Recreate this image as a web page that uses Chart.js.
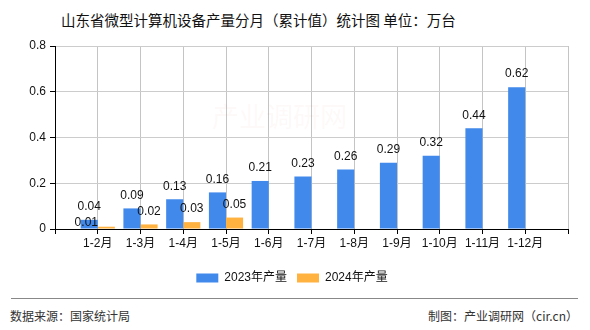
<!DOCTYPE html>
<html>
<head>
<meta charset="utf-8">
<script src="https://cdn.jsdelivr.net/npm/chart.js@4"></script>
<style>
  body { margin: 0; background: #fff; }
  #wrap { position: relative; width: 590px; height: 330px; overflow: hidden; }
  #title {
    position: absolute; left: 61px; top: 9px;
    font: 14.5px "Noto Sans CJK SC", sans-serif; color: #111; white-space: nowrap;
  }
  #chartBox { position: absolute; left: 0; top: 0; width: 590px; height: 300px; }
  #footLine { position: absolute; left: 11px; top: 298px; width: 567px; height: 1px; background: #888; }
  .foot {
    position: absolute; top: 307px;
    font: 12px "Noto Sans CJK SC", sans-serif; color: #333; white-space: nowrap;
  }
</style>
</head>
<body>
<div id="wrap">
  <div id="title">山东省微型计算机设备产量分月（累计值）统计图 单位：万台</div>
  <div id="chartBox"><canvas id="chanliang"></canvas></div>
  <div id="footLine"></div>
  <div class="foot" style="left:10px">数据来源：国家统计局</div>
  <div class="foot" style="right:12px">制图：产业调研网（cir.cn）</div>
</div>
<script>
const months = ["1-2月", "1-3月", "1-4月", "1-5月", "1-6月", "1-7月", "1-8月", "1-9月", "1-10月", "1-11月", "1-12月"];
const output2023 = [0.04, 0.09, 0.13, 0.16, 0.21, 0.23, 0.26, 0.29, 0.32, 0.44, 0.62];
const output2024 = [0.01, 0.02, 0.03, 0.05];
const yTicks = [0, 0.2, 0.4, 0.6, 0.8];

// the axis runs one empty slot past each end, so pad labels and values
const pad = arr => [null, ...arr, ...Array(months.length - arr.length).fill(null), null];
const labels = ["", ...months, ""];

const textFont = { family: "'Liberation Sans', 'Noto Sans CJK SC', sans-serif", size: 12 };

// value labels above each bar
const valueLabels = {
  id: "valueLabels",
  afterDatasetsDraw(chart) {
    const ctx = chart.ctx;
    ctx.save();
    ctx.font = "12px 'Liberation Sans', sans-serif";
    ctx.fillStyle = "#111";
    ctx.textAlign = "center";
    ctx.textBaseline = "middle";
    chart.data.datasets.forEach((ds, di) => {
      chart.getDatasetMeta(di).data.forEach((bar, i) => {
        const v = ds.data[i];
        if (v == null) return;
        let x = bar.x, y = bar.y - 13;
        // first 2024 label gets pushed aside by the 2023 one
        if (di === 1 && i === 1) { x -= 20; y += 9; }
        ctx.fillText(v.toFixed(2), x, y);
      });
    });
    ctx.restore();
  }
};

// faint site watermark inside the plot
const watermark = {
  id: "watermark",
  beforeDatasetsDraw(chart) {
    const ctx = chart.ctx;
    ctx.save();
    ctx.font = "27px 'Noto Sans CJK SC', sans-serif";
    ctx.fillStyle = "rgba(230, 110, 110, 0.04)";
    ctx.textBaseline = "middle";
    ctx.fillText("产业调研网", 212, 117);
    ctx.restore();
  }
};

new Chart(document.getElementById("chanliang"), {
  type: "bar",
  data: {
    labels: labels,
    datasets: [
      {
        label: "2023年产量",
        data: pad(output2023),
        backgroundColor: "#4189EB",
        barPercentage: 1,
        categoryPercentage: 0.8,
      },
      {
        label: "2024年产量",
        data: pad(output2024),
        backgroundColor: "#FFB23F",
        barPercentage: 1,
        categoryPercentage: 0.8,
      },
    ],
  },
  options: {
    responsive: true,
    maintainAspectRatio: false,
    animation: false,
    layout: { padding: { top: 46, left: 16, right: 22, bottom: 6 } },
    plugins: {
      title: { display: false },
      tooltip: { enabled: false },
      legend: {
        position: "bottom",
        labels: {
          boxWidth: 22,
          boxHeight: 9,
          padding: 10,
          color: "#111",
          font: textFont,
        },
      },
    },
    scales: {
      x: {
        offset: false,
        grid: { color: "#c4c4c4", tickColor: "#000", tickLength: 5, offset: false },
        border: { color: "#000" },
        ticks: {
          color: "#111",
          font: textFont,
          maxRotation: 0,
          autoSkip: false,
          padding: 2,
        },
        afterFit(scale) { scale.height = 33; },
      },
      y: {
        min: 0,
        max: 0.8,
        afterBuildTicks(scale) { scale.ticks = yTicks.map(v => ({ value: v })); },
        grid: { color: "#cccccc", tickColor: "#000", tickLength: 5 },
        border: { color: "#000" },
        ticks: {
          color: "#111",
          font: textFont,
          padding: 4,
          callback: v => (v === 0 ? "0" : String(v)),
        },
        afterFit(scale) { scale.width = 39; },
      },
    },
  },
  plugins: [valueLabels, watermark],
});
</script>
</body>
</html>
